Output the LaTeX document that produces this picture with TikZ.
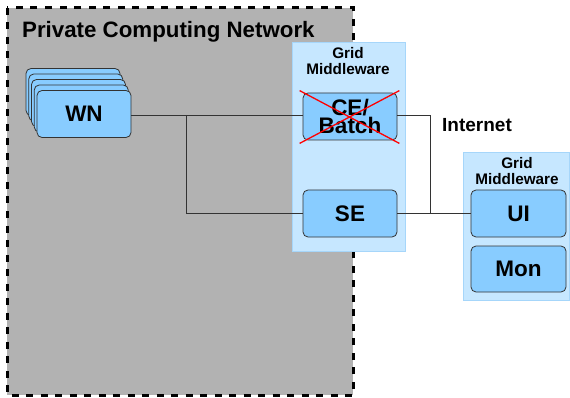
\documentclass[tikz,border=0pt]{standalone}
\usepackage{fontspec}
\setmainfont{Liberation Sans}
\usepackage{tikz}
\usetikzlibrary{calc}

\definecolor{netgray}{HTML}{B2B2B2}
\definecolor{mwfill}{HTML}{C6E7FF}
\definecolor{mwline}{HTML}{A6D6FA}
\definecolor{boxfill}{HTML}{88CCFF}

\begin{document}
\begin{tikzpicture}[x=1pt, y=-1pt,
    svcbox/.style={draw=black!80, fill=boxfill, rounded corners=5pt, line width=0.8pt,
        minimum width=94pt, minimum height=47pt, inner sep=0pt, align=center,
        font=\bfseries\fontsize{22.5pt}{18pt}\selectfont},
    mwlabel/.style={align=center, inner sep=0pt, font=\bfseries\fontsize{15.3pt}{15.5pt}\selectfont},
    wire/.style={draw=black!80, line width=0.9pt}]
    \useasboundingbox (0, 0) rectangle (570, 398); % REMOVE ME
    \draw[fill=netgray, line width=3pt, dash pattern=on 7pt off 7.5pt] (7, 8) rectangle (353, 395);
    \node[anchor=base west, inner sep=0pt, font=\bfseries\fontsize{22.3pt}{22pt}\selectfont] (title) at (22, 37.3) {Private Computing Network};
    \draw[fill=mwfill, draw=mwline, line width=1pt] (292, 43) rectangle (405, 251);
    \draw[fill=mwfill, draw=mwline, line width=1pt] (463, 153) rectangle (569.5, 300);
    \node[mwlabel] (mw1) at (348, 61) {Grid\\Middleware};
    \node[mwlabel] (mw2) at (517, 171) {Grid\\Middleware};
    \node[anchor=base west, inner sep=0pt, font=\bfseries\fontsize{19pt}{19pt}\selectfont] (inet) at (442, 131.7) {Internet};

    \foreach \k in {4,3,2,1}
        \node[svcbox] (wn\k) at (84 - 2.75*\k, 114 - 5.5*\k) {};
    \node[svcbox] (WN) at (84, 114) {WN};
    \node[svcbox] (CE) at (350, 116.5) {CE/\\Batch};
    \node[svcbox] (SE) at (350, 213.5) {SE};
    \node[svcbox, minimum width=95pt] (UI) at (518.5, 213.5) {UI};
    \node[svcbox, minimum width=95pt, minimum height=46pt] (Mon) at (518.5, 269) {Mon};

    \coordinate (j1) at (186, 115);
    \coordinate (j2) at (430, 115);
    \draw[wire] (WN.east |- j1) -- (CE.west |- j1);
    \draw[wire] (j1) |- (SE.west);
    \draw[wire] (CE.east |- j2) -- (j2) -- (j2 |- SE.east);
    \draw[wire] (SE.east) -- (UI.west);

    \draw[red, line width=1.3pt] ([shift={(-3,-2)}]CE.north west) -- ([shift={(2,3)}]CE.south east);
    \draw[red, line width=1.3pt] ([shift={(2,-2)}]CE.north east) -- ([shift={(-3,3)}]CE.south west);
\end{tikzpicture}
\end{document}
